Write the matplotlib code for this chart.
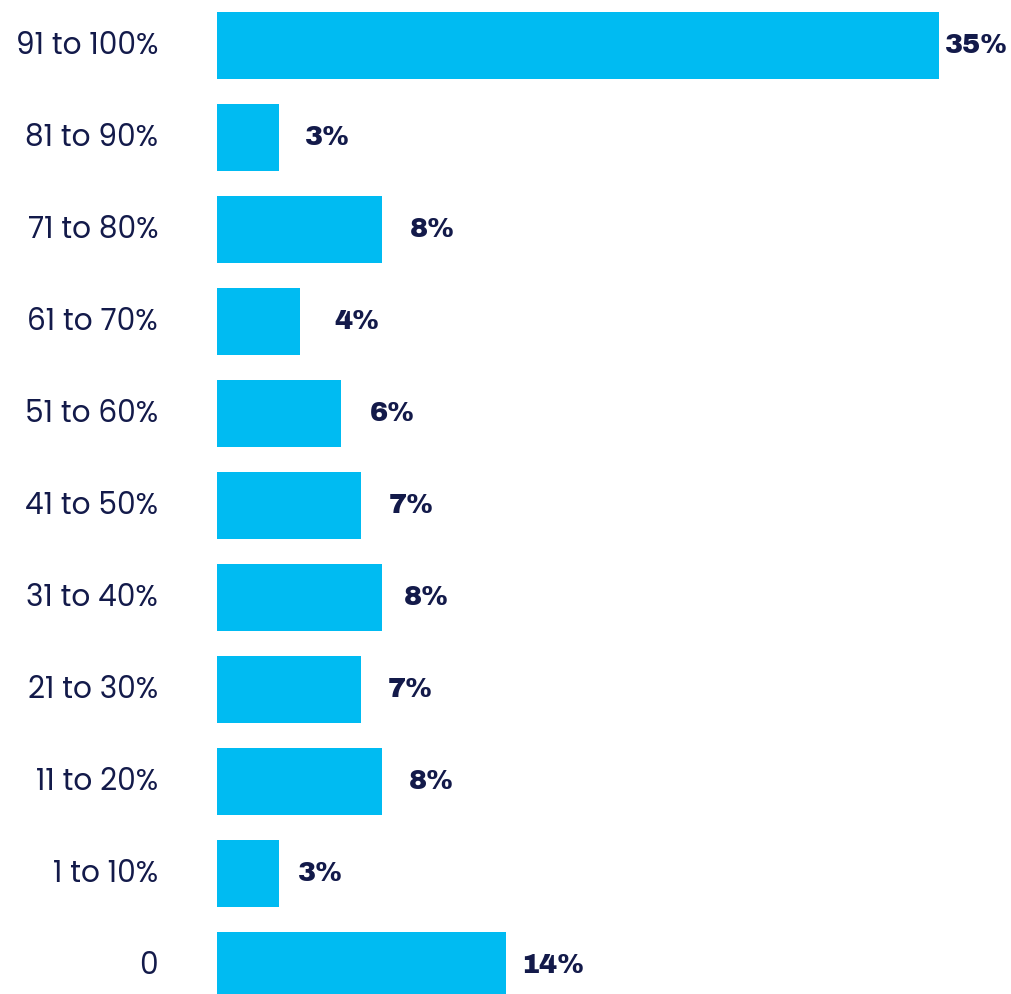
import matplotlib
matplotlib.use("Agg")
import matplotlib.pyplot as plt
from matplotlib.transforms import ScaledTranslation

# Share of respondents by percentage band
categories = ["91 to 100%", "81 to 90%", "71 to 80%", "61 to 70%", "51 to 60%",
              "41 to 50%", "31 to 40%", "21 to 30%", "11 to 20%", "1 to 10%", "0"]
shares = [35, 3, 8, 4, 6, 7, 8, 7, 8, 3, 14]
value_labels = ["35%", "3%", "8%", "4%", "6%", "7%", "8%", "7%", "8%", "3%", "14%"]

BAR_COLOR = "#00BBF2"
TEXT_COLOR = "#131A4A"

W, H, DPI = 1011, 994, 100
fig = plt.figure(figsize=(W / DPI, H / DPI), dpi=DPI)
fig.patch.set_facecolor("white")

left_px = 217
ax = fig.add_axes([left_px / W, 0, 1 - left_px / W, 1])

px_per_unit = 722 / 35.0
pitch = 92.0
first_center = 45.5

positions = list(range(len(categories)))
ax.barh(positions, shares, height=67 / pitch, color=BAR_COLOR, linewidth=0)

ax.set_xlim(0, (W - left_px) / px_per_unit)
ax.set_ylim((H - first_center) / pitch, -first_center / pitch)

ax.set_yticks(positions)
ax.set_yticklabels(categories, fontsize=21.3, color=TEXT_COLOR,
                   family=["Poppins", "DejaVu Sans"])
ax.tick_params(axis="y", length=0, pad=59 * 72 / DPI)
# nudge the category labels up slightly
lift = ScaledTranslation(0, 3 / DPI, fig.dpi_scale_trans)
for t in ax.get_yticklabels():
    t.set_transform(t.get_transform() + lift)
ax.set_xticks([])
for s in ax.spines.values():
    s.set_visible(False)

# label gaps (points) after each bar end
label_gaps = [4, 19, 20, 25, 21, 20, 16, 19, 19, 14, 11]
for y, v, lab, g in zip(positions, shares, value_labels, label_gaps):
    ax.annotate(lab, xy=(v, y), xytext=(g, 0), textcoords="offset points",
                ha="left", va="center", fontsize=19.5,
                color=TEXT_COLOR, family=["Archivo Black", "DejaVu Sans"])

fig.savefig("out.png", dpi=DPI, facecolor="white")
